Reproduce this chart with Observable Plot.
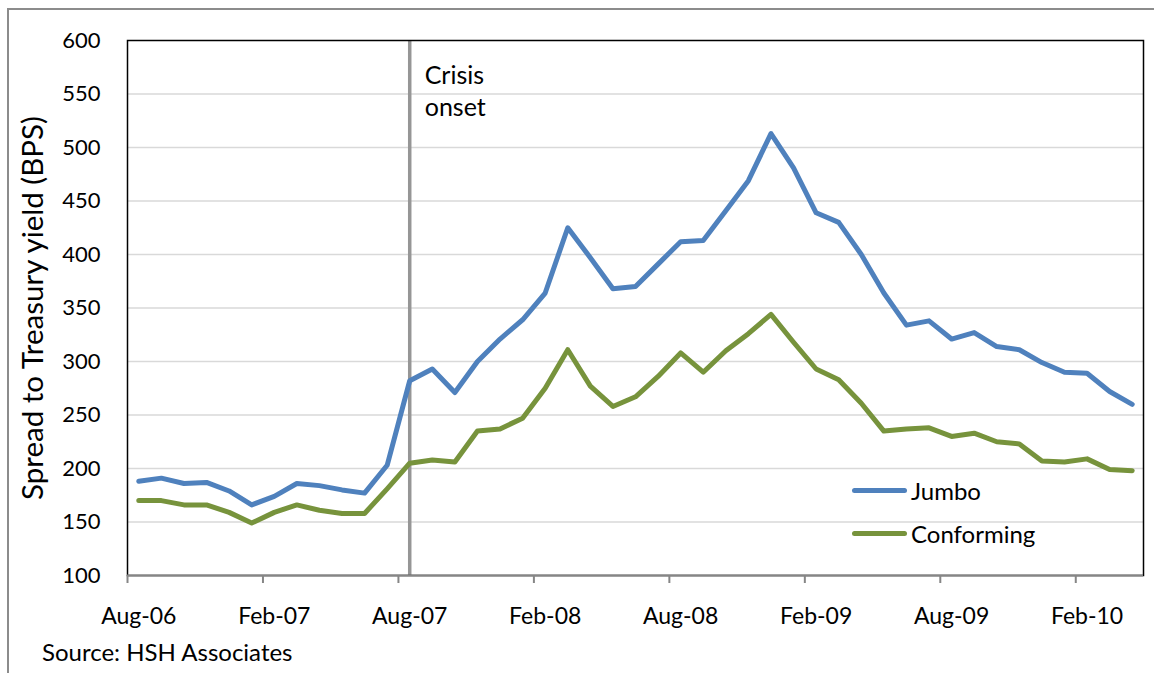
<!DOCTYPE html>
<html>
<head>
<meta charset="utf-8">
<script src="https://cdn.jsdelivr.net/npm/d3@7"></script>
<script src="https://cdn.jsdelivr.net/npm/@observablehq/plot@0.6"></script>
<style>
  body { margin: 0; background: #fff; font-family: Lato, "Open Sans", sans-serif; }
  #wrap { position: relative; width: 1154px; height: 673px; overflow: hidden; background: #fff; }
  #border { position: absolute; left: 7px; top: 8px; width: 1300px; height: 800px;
            border-left: 2px solid #8c8c8c; border-top: 2px solid #8c8c8c; }
  #chart { position: absolute; left: 0; top: 0; }
  #legend { position: absolute; left: 852px; top: 469px; font-size: 24px; color: #000; }
  .item { display: flex; align-items: center; height: 43px; }
  .swatch { width: 55px; height: 5px; border-radius: 3px; margin-right: 4px; }
  #source { position: absolute; left: 42px; top: 637px; font-size: 24px; color: #000; }
</style>
</head>
<body>
<div id="wrap">
  <div id="border"></div>
  <div id="chart"></div>
  <div id="legend"></div>
  <div id="source"></div>
</div>
<script>
// ---- data ----
const months = [
  "Aug-06","Sep-06","Oct-06","Nov-06","Dec-06","Jan-07","Feb-07","Mar-07","Apr-07","May-07","Jun-07","Jul-07",
  "Aug-07","Sep-07","Oct-07","Nov-07","Dec-07","Jan-08","Feb-08","Mar-08","Apr-08","May-08","Jun-08","Jul-08",
  "Aug-08","Sep-08","Oct-08","Nov-08","Dec-08","Jan-09","Feb-09","Mar-09","Apr-09","May-09","Jun-09","Jul-09",
  "Aug-09","Sep-09","Oct-09","Nov-09","Dec-09","Jan-10","Feb-10","Mar-10","Apr-10"
];
const jumbo = [
  188, 191, 186, 187, 179, 166, 174, 186, 184, 180, 177, 203,
  282, 293, 271, 300, 321, 339, 364, 425, 397, 368, 370, 391,
  412, 413, 441, 469, 513, 481, 439, 430, 400, 364, 334, 338,
  321, 327, 314, 311, 299, 290, 289, 272, 260
];
const conforming = [
  170, 170, 166, 166, 159, 149, 159, 166, 161, 158, 158, 181,
  205, 208, 206, 235, 237, 247, 275, 311, 277, 258, 267, 286,
  308, 290, 310, 326, 344, 318, 293, 283, 261, 235, 237, 238,
  230, 233, 225, 223, 207, 206, 209, 199, 198
];
const seriesNames = ["Jumbo", "Conforming"];
const seriesColors = ["#4f81bd", "#77933c"];
const xTickLabels = ["Aug-06","Feb-07","Aug-07","Feb-08","Aug-08","Feb-09","Aug-09","Feb-10"];
const yTicks = [100, 150, 200, 250, 300, 350, 400, 450, 500, 550, 600];
const yTitle = "Spread to Treasury yield (BPS)";
const crisisMonth = "Aug-07";
const crisisLabel = "Crisis\nonset";
const sourceText = "Source: HSH Associates";

// ---- tables ----
const rows = [];
months.forEach((m, i) => {
  rows.push({i, month: m, series: seriesNames[0], value: jumbo[i]});
  rows.push({i, month: m, series: seriesNames[1], value: conforming[i]});
});
const n = months.length;
const boundaries = d3.range(n + 1).map(k => k - 0.5);
const labelIdx = xTickLabels.map(l => months.indexOf(l));
const crisisIdx = months.indexOf(crisisMonth);
const FONT = "Lato, 'Open Sans', sans-serif";

const chart = Plot.plot({
  width: 1154,
  height: 640,
  marginTop: 40,
  marginLeft: 127,
  marginRight: 11,
  marginBottom: 65,
  style: { fontFamily: FONT, background: "transparent", color: "#000", overflow: "visible" },
  x: { type: "linear", domain: [-0.5, n - 0.5], axis: null },
  y: { domain: [100, 600], axis: null },
  color: { domain: seriesNames, range: seriesColors },
  marks: [
    Plot.gridY(yTicks.filter(v => v > 100 && v < 600), { stroke: "#d9d9d9", strokeOpacity: 1, strokeWidth: 1.5 }),
    Plot.ruleX([crisisIdx], { stroke: "#969696", strokeWidth: 3.5 }),
    Plot.text([crisisLabel], {
      x: crisisIdx, y: 600, text: d => d, textAnchor: "start", lineAnchor: "top",
      dx: 15, dy: 20, fontSize: 25, lineHeight: 1.3, fill: "#000"
    }),
    Plot.line(rows, { x: "i", y: "value", z: "series", stroke: "series", strokeWidth: 5, strokeLinejoin: "round", strokeLinecap: "round" }),
    Plot.frame({ stroke: "#000", strokeWidth: 1.5 }),
    Plot.ruleY([100], { stroke: "#868686", strokeWidth: 2 }),
    Plot.axisY({ ticks: yTicks, tickSize: 0, tickPadding: 27, fontSize: 22, tickFormat: d => String(d), label: null }),
    Plot.axisX({ ticks: boundaries.filter((b, k) => k % 6 === 0), tickSize: 8, tickFormat: () => "", stroke: "#868686", strokeWidth: 2, label: null }),
    Plot.axisX({ ticks: labelIdx, tickSize: 0, tickPadding: 32, fontSize: 23, tickFormat: i => months[i], label: null }),
    Plot.text([yTitle], { frameAnchor: "left", textAnchor: "middle", rotate: -90, dx: -94, text: d => d, fontSize: 29.5, fill: "#000" })
  ]
});
document.getElementById("chart").appendChild(chart);

// legend
const legend = document.getElementById("legend");
seriesNames.forEach((s, k) => {
  const item = document.createElement("div");
  item.className = "item";
  const sw = document.createElement("div");
  sw.className = "swatch";
  sw.style.background = seriesColors[k];
  const t = document.createElement("span");
  t.textContent = s;
  item.appendChild(sw);
  item.appendChild(t);
  legend.appendChild(item);
});
document.getElementById("source").textContent = sourceText;
</script>
</body>
</html>
